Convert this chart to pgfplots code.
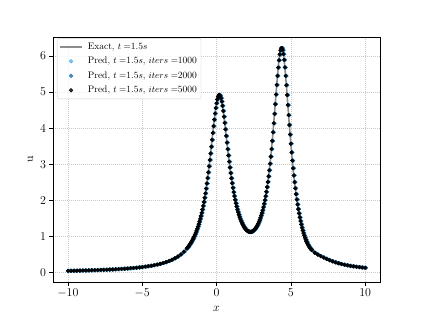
\documentclass[border=0pt]{standalone}
\usepackage{pgfplots}
\pgfplotsset{compat=1.18}
\usepackage{pgfplotstable}
\definecolor{lb}{HTML}{56B4E9}
\definecolor{mb}{HTML}{1F77B4}
\definecolor{ex}{HTML}{8C8C8C}
\definecolor{gr}{HTML}{C8C8C8}
\pgfplotsset{
  linelegend/.style={legend image code/.code={\draw[##1, line width=1.8pt] (0pt,0pt) -- (22pt,0pt); \path (25pt,0pt);}},
  dotlegend/.style={legend image code/.code={\draw[mark repeat=2,mark phase=2,##1] plot coordinates {(0pt,0pt) (11pt,0pt) (22pt,0pt)}; \path (25pt,0pt);}},
}
\pgfplotstableread{
x u
-10.0 0.0457
-9.8 0.0474
-9.6 0.0491
-9.4 0.0510
-9.2 0.0530
-9.0 0.0550
-8.8 0.0572
-8.6 0.0596
-8.4 0.0621
-8.2 0.0648
-8.0 0.0676
-7.8 0.0707
-7.6 0.0739
-7.4 0.0774
-7.2 0.0812
-7.0 0.0852
-6.8 0.0896
-6.6 0.0943
-6.4 0.0994
-6.2 0.1050
-6.0 0.1111
-5.8 0.1177
-5.6 0.1250
-5.4 0.1329
-5.2 0.1417
-5.0 0.1515
-4.8 0.1623
-4.6 0.1743
-4.4 0.1878
-4.2 0.2030
-4.0 0.2203
-3.8 0.2398
-3.6 0.2622
-3.4 0.2879
-3.2 0.3179
-3.0 0.3531
-2.8 0.3944
-2.6 0.4437
-2.4 0.5030
-2.2 0.5753
-2.00 0.6645
-1.95 0.6900
-1.90 0.7170
-1.85 0.7457
-1.80 0.7761
-1.75 0.8083
-1.70 0.8424
-1.65 0.8789
-1.60 0.9176
-1.55 0.9588
-1.50 1.0028
-1.45 1.0497
-1.40 1.0999
-1.35 1.1534
-1.30 1.2108
-1.25 1.2722
-1.20 1.3379
-1.15 1.4085
-1.10 1.4842
-1.05 1.5654
-1.00 1.6526
-0.95 1.7462
-0.90 1.8467
-0.85 1.9545
-0.80 2.0700
-0.75 2.1937
-0.70 2.3260
-0.65 2.4669
-0.60 2.6168
-0.55 2.7755
-0.50 2.9426
-0.45 3.1176
-0.40 3.2995
-0.35 3.4867
-0.30 3.6770
-0.25 3.8678
-0.20 4.0557
-0.15 4.2366
-0.10 4.4059
-0.05 4.5590
0.00 4.6906
0.05 4.7962
0.10 4.8716
0.15 4.9139
0.20 4.9197
0.25 4.8918
0.30 4.8303
0.35 4.7381
0.40 4.6187
0.45 4.4769
0.50 4.3177
0.55 4.1460
0.60 3.9663
0.65 3.7829
0.70 3.5992
0.75 3.4180
0.80 3.2418
0.85 3.0721
0.90 2.9100
0.95 2.7561
1.00 2.6109
1.05 2.4746
1.10 2.3469
1.15 2.2279
1.20 2.1172
1.25 2.0141
1.30 1.9188
1.35 1.8303
1.40 1.7487
1.45 1.6733
1.50 1.6039
1.55 1.5400
1.60 1.4815
1.65 1.4282
1.70 1.3796
1.75 1.3356
1.80 1.2961
1.85 1.2610
1.90 1.2300
1.95 1.2029
2.00 1.1801
2.05 1.1612
2.10 1.1462
2.15 1.1350
2.20 1.1277
2.25 1.1243
2.30 1.1247
2.35 1.1291
2.40 1.1375
2.45 1.1498
2.50 1.1661
2.55 1.1866
2.60 1.2112
2.65 1.2401
2.70 1.2734
2.75 1.3114
2.80 1.3542
2.85 1.4019
2.90 1.4549
2.95 1.5135
3.00 1.5781
3.05 1.6489
3.10 1.7266
3.15 1.8115
3.20 1.9042
3.25 2.0054
3.30 2.1158
3.35 2.2361
3.40 2.3673
3.45 2.5098
3.50 2.6648
3.55 2.8328
3.60 3.0146
3.65 3.2107
3.70 3.4214
3.75 3.6463
3.80 3.8850
3.85 4.1359
3.90 4.3968
3.95 4.6639
4.00 4.9326
4.05 5.1967
4.10 5.4484
4.15 5.6792
4.20 5.8798
4.25 6.0411
4.30 6.1547
4.35 6.2143
4.40 6.2165
4.45 6.1609
4.50 6.0506
4.55 5.8911
4.60 5.6821
4.65 5.4474
4.70 5.1897
4.75 4.9176
4.80 4.6393
4.85 4.3606
4.90 4.0870
4.95 3.8223
5.00 3.5688
5.05 3.3283
5.10 3.1014
5.15 2.8887
5.20 2.6899
5.25 2.5045
5.30 2.3320
5.35 2.1717
5.40 2.0227
5.45 1.8847
5.50 1.7566
5.55 1.6379
5.60 1.5280
5.65 1.4264
5.70 1.3326
5.75 1.2460
5.80 1.1665
5.85 1.0934
5.90 1.0265
5.95 0.9654
6.00 0.9097
6.05 0.8593
6.10 0.8137
6.15 0.7725
6.20 0.7356
6.25 0.7024
6.30 0.6727
6.35 0.6463
6.40 0.6224
6.60 0.5490
6.80 0.4972
7.00 0.4545
7.20 0.4149
7.40 0.3773
7.60 0.3419
7.80 0.3098
8.00 0.2814
8.20 0.2565
8.40 0.2347
8.60 0.2156
8.80 0.1989
9.00 0.1841
9.20 0.1709
9.40 0.1592
9.60 0.1486
9.80 0.1390
10.00 0.1305
}\data
\begin{document}
\begin{tikzpicture}
\begin{axis}[
  at={(53pt,35pt)}, anchor=south west,
  scale only axis, width=327pt, height=245pt,
  xmin=-11, xmax=11, ymin=-0.263, ymax=6.525,
  xtick={-10,-5,0,5,10}, ytick={0,1,2,3,4,5,6},
  tick align=outside, xtick pos=bottom, ytick pos=left,
  major tick length=3.5pt,
  tick style={black, line width=0.6pt},
  axis line style={black, line width=0.6pt},
  grid=major, grid style={gr, line width=0.45pt, dash pattern=on 0.6pt off 1.4pt},
  tick label style={font=\fontsize{12}{14}\selectfont},
  label style={font=\fontsize{12}{14}\selectfont},
  xlabel={$x$}, ylabel={u},
  xlabel style={yshift=-2pt},
  legend style={at={(0.012,0.995)}, anchor=north west, draw=black!18,
    rounded corners=2pt, fill=white, fill opacity=0.8, text opacity=1,
    font=\fontsize{9.5}{11}\selectfont, inner xsep=2pt, inner ysep=2.5pt,
    row sep=2.4pt},
  legend cell align=left,
]
\addplot[ex, line width=1.6pt, mark=none, linelegend] table {\data};
\addlegendentry{Exact, $t=$1.5$s$}
\addplot[lb, only marks, mark=*, mark size=1.9pt, dotlegend] table[x expr=\thisrow{x}+0.03, y=u] {\data};
\addlegendentry{Pred, $t=$1.5$s$, $iters=$1000}
\addplot[mb, only marks, mark=*, mark size=1.9pt, dotlegend] table[x expr=\thisrow{x}+0.055, y=u] {\data};
\addlegendentry{Pred, $t=$1.5$s$, $iters=$2000}
\addplot[black, only marks, mark=*, mark size=1.9pt, dotlegend] table {\data};
\addlegendentry{Pred, $t=$1.5$s$, $iters=$5000}
\end{axis}
\pgfresetboundingbox
\path (0,0) rectangle (423pt,317pt);
\end{tikzpicture}
\end{document}
